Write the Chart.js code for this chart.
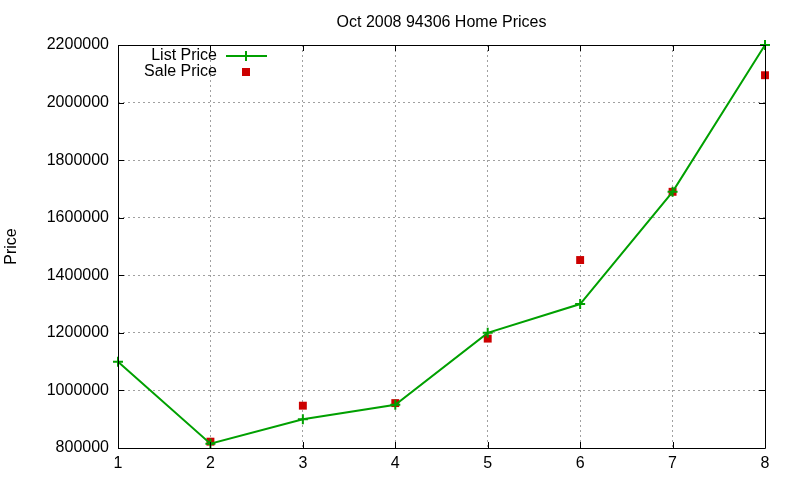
<!DOCTYPE html>
<html>
<head>
<meta charset="utf-8">
<script src="https://cdn.jsdelivr.net/npm/chart.js@4"></script>
<style>
  html, body { margin: 0; padding: 0; background: #fff; }
  #wrap { width: 800px; height: 480px; }
</style>
</head>
<body>
<div id="wrap"><canvas id="chart" width="800" height="480"></canvas></div>
<script>
let xValues = [1, 2, 3, 4, 5, 6, 7, 8];
let listPrices = [1100000, 815000, 900000, 950000, 1200000, 1300000, 1690000, 2200000];
let salePrices = [null, 822000, 947000, 956000, 1180000, 1453000, 1690000, 2095000];
let chartTitle = 'Oct 2008 94306 Home Prices';
let yLabel = 'Price';
let legendLabels = ['List Price', 'Sale Price'];

let green = '#00a000';
let red = '#cc0000';
let fontFamily = '"Liberation Sans", Arial, sans-serif';

// frame, inward ticks, title, y label and the in-plot legend, gnuplot style
let gnuplotDecor = {
    id: 'gnuplotDecor',
    afterDraw: function(chart) {
        let ctx = chart.ctx;
        let a = chart.chartArea;
        let xs = chart.scales.x;
        let ys = chart.scales.y;
        ctx.save();
        ctx.strokeStyle = '#000';
        ctx.lineWidth = 1;
        ctx.beginPath();
        ctx.rect(Math.round(a.left) + 0.5, Math.round(a.top) + 0.5,
            Math.round(a.right - a.left), Math.round(a.bottom - a.top));
        ctx.stroke();

        ctx.beginPath();
        ys.ticks.forEach(function(t) {
            let y = Math.round(ys.getPixelForValue(t.value)) + 0.5;
            ctx.moveTo(a.left, y); ctx.lineTo(a.left + 6, y);
            ctx.moveTo(a.right, y); ctx.lineTo(a.right - 6, y);
        });
        xs.ticks.forEach(function(t) {
            let x = Math.round(xs.getPixelForValue(t.value)) + 0.5;
            ctx.moveTo(x, a.bottom); ctx.lineTo(x, a.bottom - 6);
            ctx.moveTo(x, a.top); ctx.lineTo(x, a.top + 6);
        });
        ctx.stroke();

        ctx.fillStyle = '#000';
        ctx.font = '16px ' + fontFamily;
        ctx.textAlign = 'center';
        ctx.textBaseline = 'middle';
        ctx.fillText(chartTitle, (a.left + a.right) / 2, 23);

        ctx.save();
        ctx.translate(12, (a.top + a.bottom) / 2);
        ctx.rotate(-Math.PI / 2);
        ctx.fillText(yLabel, 0, 0);
        ctx.restore();

        // legend
        ctx.textAlign = 'right';
        ctx.fillText(legendLabels[0], 217, 56);
        ctx.fillText(legendLabels[1], 217, 72);
        ctx.strokeStyle = green;
        ctx.lineWidth = 2;
        ctx.beginPath();
        ctx.moveTo(226, 56); ctx.lineTo(267, 56);
        ctx.moveTo(246, 51); ctx.lineTo(246, 61);
        ctx.stroke();
        ctx.fillStyle = red;
        ctx.fillRect(242, 68, 8, 8);
        ctx.restore();
    }
};

let ctx = document.getElementById('chart').getContext('2d');
let chartInstance = new Chart(ctx, {
    type: 'line',
    data: {
        datasets: [{
            label: legendLabels[0],
            data: xValues.map(function(x, i) { return { x: x, y: listPrices[i] }; }),
            borderColor: green,
            backgroundColor: green,
            borderWidth: 2,
            pointStyle: 'cross',
            pointRadius: 5,
            pointBorderWidth: 2,
            tension: 0,
            clip: false
        }, {
            label: legendLabels[1],
            data: xValues.map(function(x, i) { return { x: x, y: salePrices[i] }; }),
            showLine: false,
            borderColor: red,
            backgroundColor: red,
            pointStyle: 'rect',
            pointRadius: 5.6,
            pointBorderWidth: 0,
            clip: false
        }]
    },
    options: {
        responsive: false,
        animation: false,
        layout: { padding: { top: 45, right: 35, left: 0, bottom: 0 } },
        plugins: {
            legend: { display: false },
            title: { display: false },
            tooltip: { enabled: false }
        },
        scales: {
            x: {
                type: 'linear',
                min: 1,
                max: 8,
                ticks: {
                    stepSize: 1,
                    color: '#000',
                    padding: 6,
                    font: { family: fontFamily, size: 16 }
                },
                grid: {
                    color: '#a0a0a0',
                    drawTicks: false
                },
                border: { display: false, dash: [2, 3] },
                afterFit: function(scale) { scale.height = 32; }
            },
            y: {
                min: 800000,
                max: 2200000,
                ticks: {
                    stepSize: 200000,
                    color: '#000',
                    padding: 9,
                    font: { family: fontFamily, size: 16 },
                    callback: function(value) { return String(value); }
                },
                grid: {
                    color: '#a0a0a0',
                    drawTicks: false
                },
                border: { display: false, dash: [2, 3] },
                afterFit: function(scale) { scale.width = 118; }
            }
        }
    },
    plugins: [gnuplotDecor]
});
</script>
</body>
</html>
